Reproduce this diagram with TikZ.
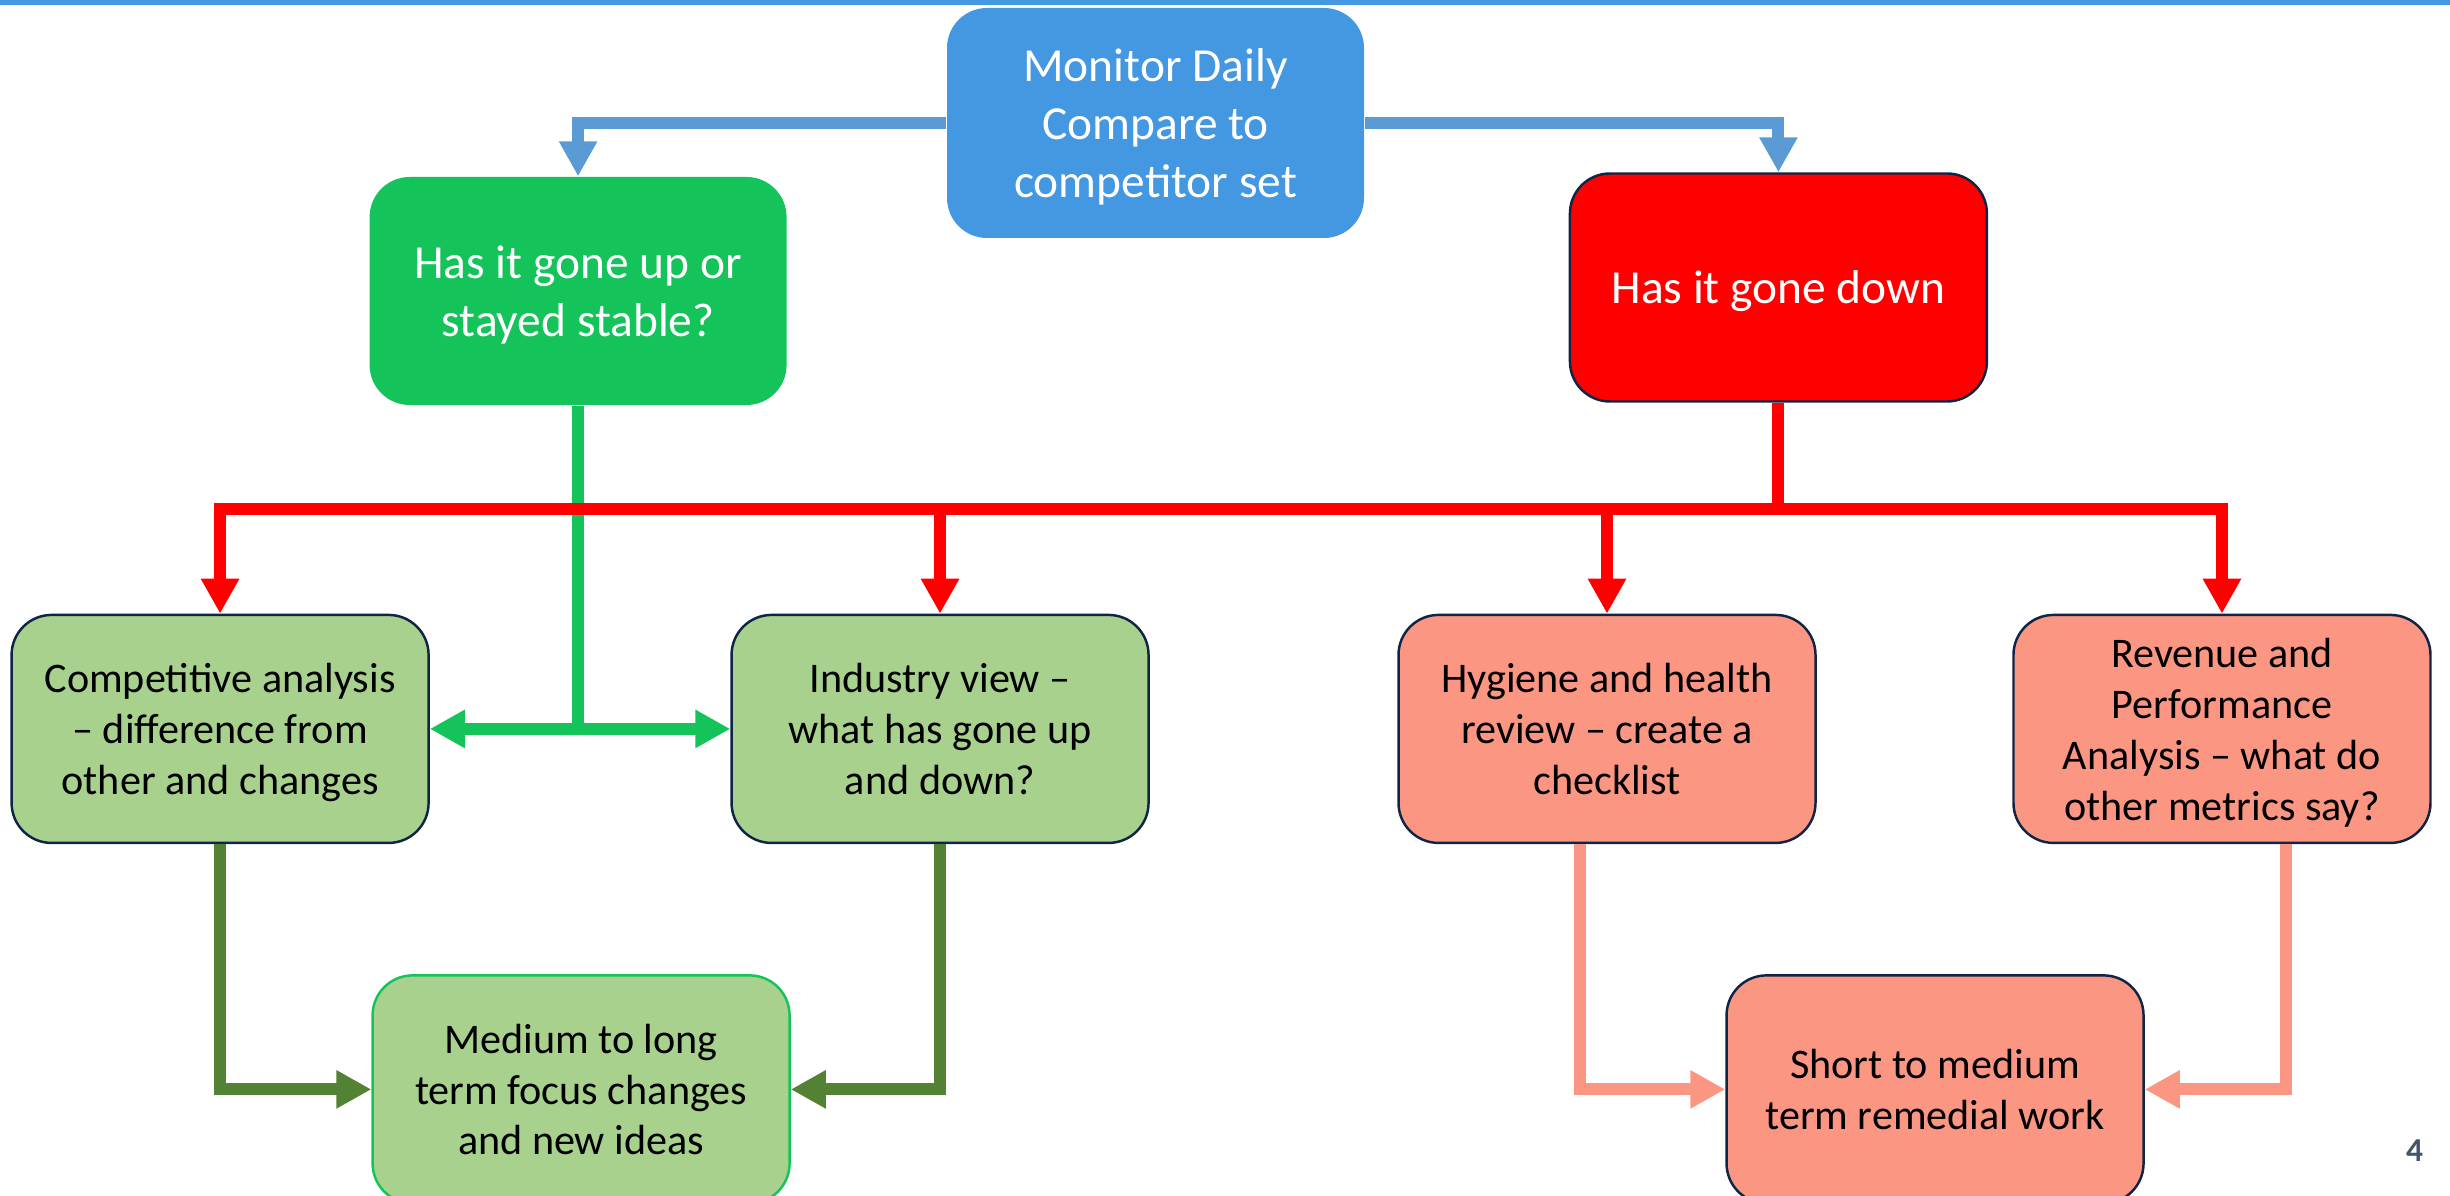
\documentclass[tikz,border=0pt]{standalone}
\usepackage{fontspec}
\setmainfont{Carlito}
\usetikzlibrary{arrows.meta, positioning}
\definecolor{topblue}{RGB}{68,151,225}
\definecolor{linkblue}{RGB}{91,155,213}
\definecolor{upgreen}{RGB}{20,195,90}
\definecolor{lightgreen}{RGB}{169,209,142}
\definecolor{darkgreen}{RGB}{84,130,53}
\definecolor{salmon}{RGB}{251,150,131}
\definecolor{navy}{RGB}{16,36,70}
\definecolor{pagegray}{RGB}{68,84,106}
\tikzset{
    block/.style={rectangle, rounded corners=4mm, align=center, minimum width=4.17cm, minimum height=2.28cm, inner sep=1pt, text depth=0pt},
    big_text/.style={font=\fontsize{13.5}{16.5}\selectfont},
    small_text/.style={font=\fontsize{12}{14.5}\selectfont},
    block_monitor/.style={block, big_text, fill=topblue, text=white, minimum height=2.3cm},
    block_up/.style={block, big_text, fill=upgreen, text=white},
    block_down/.style={block, big_text, draw=navy, line width=0.7pt, fill=red, text=white},
    block_green/.style={block, small_text, draw=navy, line width=0.7pt, fill=lightgreen},
    block_salmon/.style={block, small_text, draw=navy, line width=0.7pt, fill=salmon},
    block_medium/.style={block, small_text, draw=upgreen, line width=0.7pt, fill=lightgreen},
    head/.tip={Triangle[length=3.5mm, width=3.6mm]},
    link/.style={line width=1.2mm},
    arrow_blue/.style={link, draw=linkblue, -head},
    line_red/.style={link, draw=red},
    arrow_red/.style={link, draw=red, -head},
    line_green/.style={link, draw=upgreen},
    arrow_green/.style={link, draw=upgreen, head-head},
    arrow_dkgreen/.style={link, draw=darkgreen, -head},
    arrow_salmon/.style={link, draw=salmon, -head}
}
\begin{document}
\begin{tikzpicture}
    \useasboundingbox (0,0) rectangle (24.5,-11.96);
    \clip (0,0) rectangle (24.5,-11.96);
    \fill[topblue] (0,0) rectangle (24.5,-0.05);

    % Top Row
    \node (monitor) [block_monitor] at (11.555,-1.23) {Monitor Daily\\Compare to\\competitor set};

    \node (up) [block_up, left=1.59cm of monitor, yshift=-1.68cm] {Has it gone up or\\stayed stable?};

    \node (down) [block_down, right=2.04cm of monitor, yshift=-1.645cm] {Has it gone down};

    % Middle Row
    \node (comp) [block_green, below=2.08cm of up, xshift=-3.58cm] {Competitive analysis\\ -- difference from\\other and changes};

    \node (ind) [block_green, right=3.005cm of comp] {Industry view --\\what has gone up\\and down?};

    \node (hyg) [block_salmon, right=2.475cm of ind] {Hygiene and health\\review -- create a\\checklist};

    \node (rev) [block_salmon, right=1.955cm of hyg] {Revenue and\\Performance\\Analysis -- what do\\other metrics say?};

    % Bottom Row
    \node (med) [block_medium, below=1.3cm of comp, xshift=3.61cm] {Medium to long\\term focus changes\\and new ideas};

    \node (short) [block_salmon, right=9.345cm of med] {Short to medium\\term remedial work};

    \node (page) [text=pagegray, font=\fontsize{9.5}{11}\selectfont\bfseries] at (24.145,-11.505) {4};

    % Connections
    \draw [arrow_blue] (monitor.west) -| (up.north);
    \draw [arrow_blue] (monitor.east) -| (down.north);

    \draw [line_green] (up.south) -- (up.south |- comp.east);
    \draw [arrow_green] (comp.east) -- (ind.west);

    \coordinate [below=1.06cm of down.south] (bus);
    \draw [line_red] (down.south) -- (bus);
    \draw [arrow_red] (bus) -| (comp.north);
    \draw [arrow_red] (bus) -| (ind.north);
    \draw [arrow_red] (bus) -| (hyg.north);
    \draw [arrow_red] (bus) -| (rev.north);

    \draw [arrow_dkgreen] (comp.south) |- (med.west);
    \draw [arrow_dkgreen] (ind.south) |- (med.east);

    \draw [arrow_salmon] ([xshift=-2.7mm]hyg.south) |- (short.west);
    \draw [arrow_salmon] ([xshift=6.4mm]rev.south) |- (short.east);
\end{tikzpicture}
\end{document}
